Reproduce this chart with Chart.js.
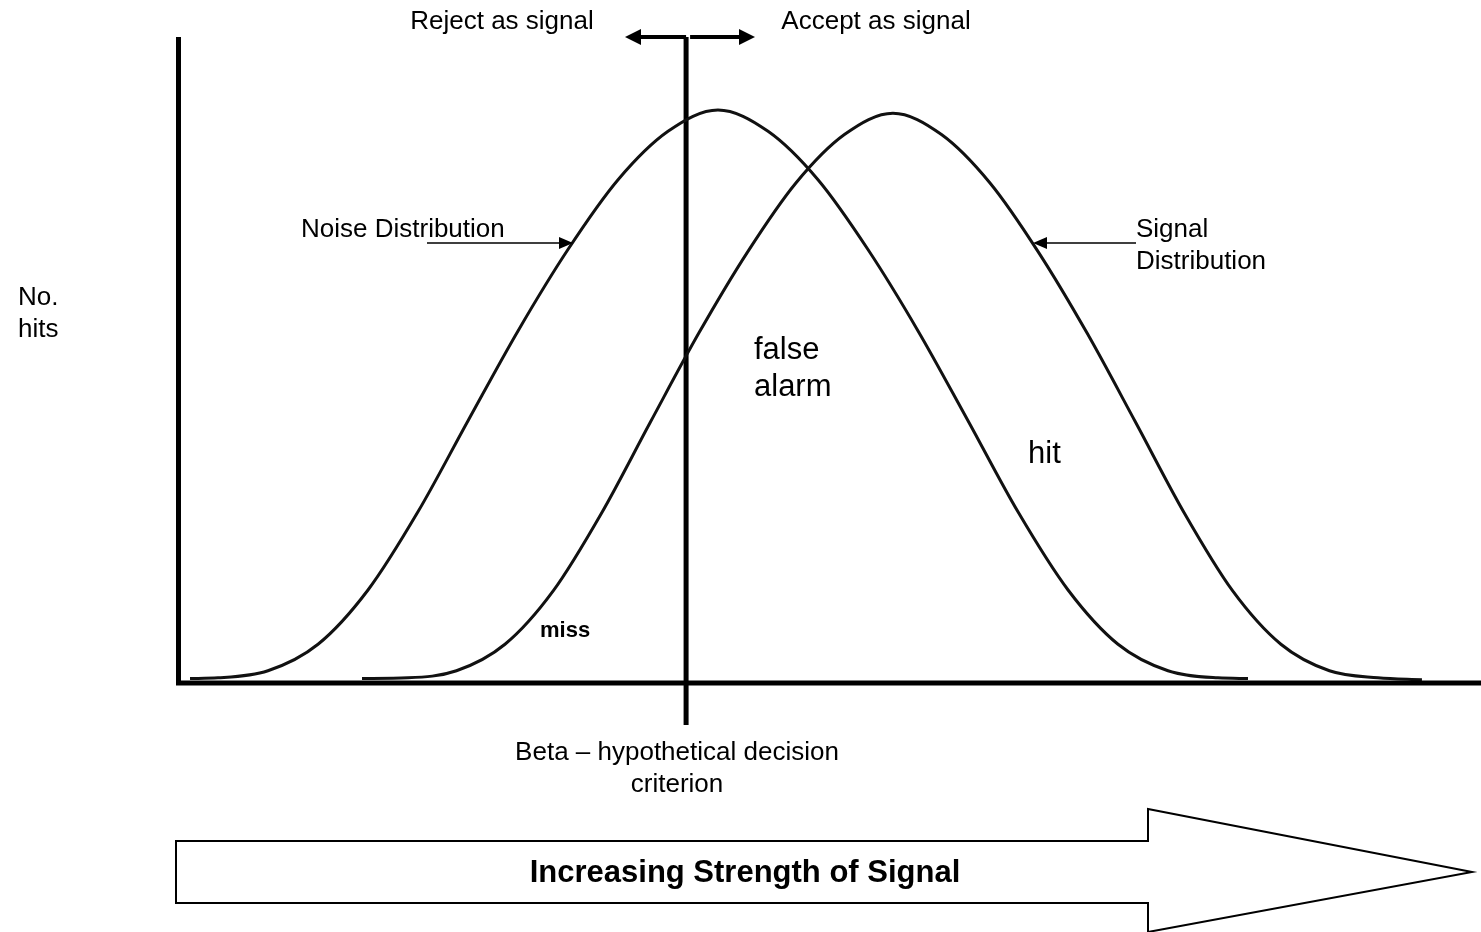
<!DOCTYPE html>
<html lang="en">
<head>
  <meta charset="UTF-8">
  <title>Signal detection</title>
  <script src="https://cdn.jsdelivr.net/npm/chart.js"></script>
  <style>
    body, html {
      margin: 0;
      padding: 0;
      background: #fff;
    }
    #wrap {
      width: 1481px;
      height: 932px;
      position: relative;
    }
  </style>
</head>
<body>
  <div id="wrap"><canvas id="grafico"></canvas></div>
  <script>
    // values (x = signal strength, y = no. hits)
    const noiseX = [0.77, 2.92, 6.76, 10.61, 14.45, 18.29, 22.14, 25.98, 29.82, 33.67, 37.51, 41.35, 45.20, 49.04, 52.88, 56.73, 60.57, 64.41, 68.26, 72.10, 75.94, 79.78, 82.09];
    const noiseY = [0.7, 0.8, 1.9, 6.0, 14.4, 26.5, 40.6, 54.5, 67.1, 77.9, 85.4, 88.7, 85.4, 77.9, 67.1, 54.5, 40.6, 26.5, 14.4, 6.0, 1.9, 0.8, 0.7];

    const signalX = [13.99, 17.52, 21.25, 24.98, 28.70, 32.43, 36.16, 39.89, 43.62, 47.34, 51.07, 54.80, 58.53, 62.26, 65.98, 69.71, 73.44, 77.17, 80.90, 84.62, 88.35, 92.08, 95.46];
    const signalY = [0.7, 0.8, 1.9, 6.0, 14.3, 26.4, 40.4, 54.2, 66.7, 77.4, 84.9, 88.2, 84.9, 77.4, 66.7, 54.2, 40.4, 26.4, 14.3, 6.0, 1.9, 0.8, 0.5];

    const criterionX = 38.9;
    const criterionSpan = [-6.5, 100];

    const toPoints = (xs, ys) => xs.map((x, i) => ({ x, y: ys[i] }));

    const FONT = '"Liberation Sans", Arial, sans-serif';

    function arrowHead(ctx, x, y, dir, len, half) {
      ctx.beginPath();
      ctx.moveTo(x, y);
      ctx.lineTo(x - dir * len, y - half);
      ctx.lineTo(x - dir * len, y + half);
      ctx.closePath();
      ctx.fill();
    }

    const decoraciones = {
      id: "decoraciones",
      afterDraw(chart) {
        const ctx = chart.ctx;
        const a = chart.chartArea;
        const xs = chart.scales.x;
        const cx = xs.getPixelForValue(criterionX);
        ctx.save();
        ctx.strokeStyle = "#000";
        ctx.fillStyle = "#000";

        // axes
        ctx.lineWidth = 5;
        ctx.beginPath();
        ctx.moveTo(a.left - 1.5, a.top);
        ctx.lineTo(a.left - 1.5, a.bottom + 2);
        ctx.moveTo(a.left - 4, a.bottom);
        ctx.lineTo(a.right, a.bottom);
        ctx.stroke();

        // reject / accept arrows
        ctx.lineWidth = 4;
        ctx.beginPath();
        ctx.moveTo(cx, a.top);
        ctx.lineTo(641, a.top);
        ctx.moveTo(cx + 4, a.top);
        ctx.lineTo(739, a.top);
        ctx.stroke();
        arrowHead(ctx, 625, a.top, -1, 16, 8);
        arrowHead(ctx, 755, a.top, 1, 16, 8);

        // pointers to curves
        ctx.lineWidth = 1.5;
        ctx.beginPath();
        ctx.moveTo(427, 243);
        ctx.lineTo(560, 243);
        ctx.moveTo(1136, 243);
        ctx.lineTo(1046, 243);
        ctx.stroke();
        arrowHead(ctx, 573, 243, 1, 14, 6);
        arrowHead(ctx, 1033, 243, -1, 14, 6);

        // texts
        ctx.textBaseline = "middle";
        ctx.font = "26px " + FONT;
        ctx.textAlign = "center";
        ctx.fillText("Reject as signal", 502, 22);
        ctx.fillText("Accept as signal", 876, 22);
        ctx.fillText("Beta \u2013 hypothetical decision", 677, 753);
        ctx.fillText("criterion", 677, 785);
        ctx.textAlign = "left";
        ctx.fillText("Noise Distribution", 301, 230);
        ctx.fillText("Signal", 1136, 230);
        ctx.fillText("Distribution", 1136, 262);
        ctx.fillText("No.", 18, 298);
        ctx.fillText("hits", 18, 330);
        ctx.font = "31px " + FONT;
        ctx.fillText("false", 754, 350);
        ctx.fillText("alarm", 754, 387);
        ctx.fillText("hit", 1028, 454);
        ctx.font = "bold 22px " + FONT;
        ctx.fillText("miss", 540, 631);

        // big arrow
        ctx.lineWidth = 2;
        ctx.beginPath();
        ctx.moveTo(176, 841);
        ctx.lineTo(1148, 841);
        ctx.lineTo(1148, 809);
        ctx.lineTo(1472, 872);
        ctx.lineTo(1148, 932);
        ctx.lineTo(1148, 903);
        ctx.lineTo(176, 903);
        ctx.closePath();
        ctx.stroke();
        ctx.font = "bold 31px " + FONT;
        ctx.textAlign = "center";
        ctx.fillText("Increasing Strength of Signal", 745, 873);
        ctx.restore();
      }
    };

    const ctx = document.getElementById("grafico").getContext("2d");
    new Chart(ctx, {
      type: "line",
      data: {
        datasets: [
          {
            label: "Noise Distribution",
            data: toPoints(noiseX, noiseY),
            borderColor: "#111",
            borderWidth: 3,
            pointRadius: 0,
            fill: false,
            cubicInterpolationMode: "monotone"
          },
          {
            label: "Signal Distribution",
            data: toPoints(signalX, signalY),
            borderColor: "#111",
            borderWidth: 3,
            pointRadius: 0,
            fill: false,
            cubicInterpolationMode: "monotone"
          },
          {
            label: "Beta",
            data: criterionSpan.map(y => ({ x: criterionX, y })),
            borderColor: "#000",
            borderWidth: 5,
            pointRadius: 0,
            clip: false
          }
        ]
      },
      options: {
        responsive: true,
        maintainAspectRatio: false,
        animation: false,
        layout: { padding: { left: 180, top: 37, right: 0, bottom: 249 } },
        plugins: {
          legend: { display: false },
          tooltip: { enabled: false }
        },
        scales: {
          x: { type: "linear", min: 0, max: 100, display: false },
          y: { type: "linear", min: 0, max: 100, display: false }
        }
      },
      plugins: [decoraciones]
    });
  </script>
</body>
</html>
